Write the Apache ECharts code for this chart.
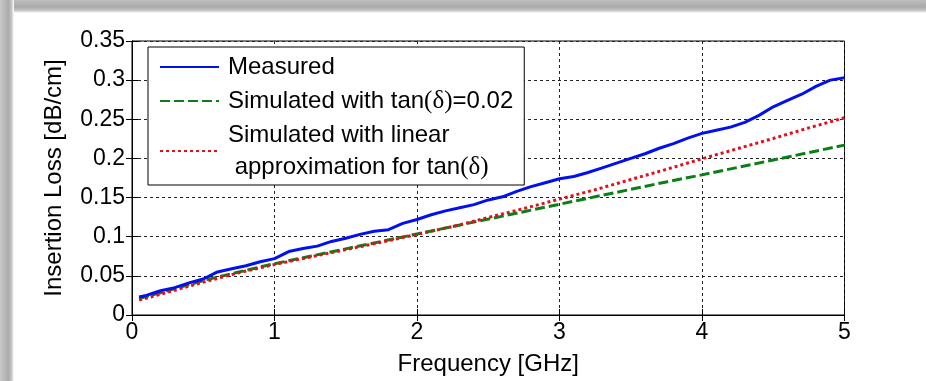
<!DOCTYPE html>
<html>
<head>
<meta charset="utf-8">
<title>Insertion Loss</title>
<script src="https://cdn.jsdelivr.net/npm/echarts@6/dist/echarts.min.js"></script>
<style>
  html, body { margin: 0; padding: 0; background: #fff; overflow: hidden; }
  #chart { width: 926px; height: 381px; }
</style>
</head>
<body>
<div id="chart"></div>
<script>
// measured curve (GHz, dB/cm)
var freqMeasured = [0.05, 0.1, 0.2, 0.3, 0.4, 0.5, 0.6, 0.7, 0.8, 0.9, 1.0,
    1.1, 1.2, 1.3, 1.4, 1.5, 1.6, 1.7, 1.8, 1.9, 2.0,
    2.1, 2.2, 2.3, 2.4, 2.5, 2.6, 2.7, 2.8, 2.9, 3.0,
    3.1, 3.2, 3.3, 3.4, 3.5, 3.6, 3.7, 3.8, 3.9, 4.0,
    4.1, 4.2, 4.3, 4.4, 4.5, 4.6, 4.7, 4.8, 4.9, 5.0];
var lossMeasured = [0.023, 0.025, 0.031, 0.035, 0.041, 0.046, 0.055, 0.059, 0.063, 0.068, 0.072,
    0.081, 0.085, 0.088, 0.094, 0.098, 0.103, 0.107, 0.109, 0.117, 0.122,
    0.128, 0.133, 0.137, 0.141, 0.147, 0.151, 0.158, 0.164, 0.169, 0.174,
    0.177, 0.182, 0.188, 0.194, 0.200, 0.206, 0.213, 0.219, 0.226, 0.232,
    0.236, 0.240, 0.246, 0.255, 0.266, 0.274, 0.282, 0.292, 0.300, 0.303];

// simulated curves
var freqSim = [0.05, 0.25, 0.5, 0.75, 1.0, 1.25, 1.5, 1.75, 2.0, 2.25, 2.5,
    2.75, 3.0, 3.25, 3.5, 3.75, 4.0, 4.25, 4.5, 4.75, 5.0];
var lossSimConst = [0.021, 0.031, 0.044, 0.055, 0.0655, 0.075, 0.0845, 0.094, 0.1035, 0.113, 0.1225,
    0.132, 0.1415, 0.151, 0.1605, 0.170, 0.179, 0.1885, 0.198, 0.2075, 0.217];
var lossSimLinear = [0.019, 0.029, 0.042, 0.054, 0.0645, 0.074, 0.0835, 0.093, 0.103, 0.113, 0.1245,
    0.136, 0.148, 0.160, 0.173, 0.186, 0.1995, 0.2125, 0.2255, 0.239, 0.252];

var xTickLabels = ['0', '1', '2', '3', '4', '5'];
var yTickLabels = ['0', '0.05', '0.1', '0.15', '0.2', '0.25', '0.3', '0.35'];
var seriesNames = ['Measured', 'Simulated with tan(δ)=0.02', 'Simulated with linear\n approximation for tan(δ)'];

function zip(xs, ys) {
    var out = [];
    for (var i = 0; i < xs.length; i++) out.push([xs[i], ys[i]]);
    return out;
}

var FONT = 'Liberation Sans, Arial, sans-serif';
var chart = echarts.init(document.getElementById('chart'));

var gridLine = { show: true, lineStyle: { color: '#222', width: 1, type: [3, 3] } };

var option = {
    backgroundColor: '#fff',
    animation: false,
    graphic: [
        // grey frame strips (top and left)
        {
            type: 'rect', shape: { x: 0, y: 0, width: 926, height: 13 }, silent: true,
            style: { fill: new echarts.graphic.LinearGradient(0, 0, 0, 1, [
                { offset: 0, color: '#bdbdbd' }, { offset: 0.55, color: '#aaaaaa' },
                { offset: 0.8, color: '#c6c6c6' }, { offset: 1, color: '#ffffff' }]) }
        },
        {
            type: 'rect', shape: { x: 0, y: 0, width: 14, height: 381 }, silent: true,
            style: { fill: new echarts.graphic.LinearGradient(0, 0, 1, 0, [
                { offset: 0, color: '#c8c8c8' }, { offset: 0.6, color: '#acacac' },
                { offset: 0.8, color: '#c0c0c0' }, { offset: 1, color: '#ffffff' }]) }
        }
    ],
    grid: {
        left: 132, right: 81.5, top: 41, bottom: 63.3,
        show: true, borderColor: '#000', borderWidth: 1, backgroundColor: 'transparent'
    },
    legend: {
        orient: 'vertical',
        left: 148, top: 47,
        padding: [4, 11, 2, 11],
        itemGap: 2,
        itemWidth: 59,
        itemHeight: 14,
        backgroundColor: '#fff',
        borderColor: '#000',
        borderWidth: 1,
        borderRadius: 0,
        itemStyle: { opacity: 0 },
        data: seriesNames,
        formatter: function (name) {
            return name.split('(δ)').join('{s|(δ)}');
        },
        textStyle: {
            fontFamily: FONT, fontSize: 24, color: '#000', lineHeight: 32, padding: [0, 0, 0, 4],
            rich: { s: { fontFamily: 'Liberation Serif, serif', fontSize: 25, lineHeight: 32, color: '#000' } }
        }
    },
    xAxis: [{
        type: 'value', min: 0, max: 5, interval: 1,
        name: 'Frequency [GHz]', nameLocation: 'middle', nameGap: 37,
        nameTextStyle: { fontFamily: FONT, fontSize: 24, color: '#000' },
        axisLine: { show: true, lineStyle: { color: '#000', width: 1 } },
        axisTick: { show: true, inside: true, length: 6, lineStyle: { color: '#000' } },
        axisLabel: {
            fontFamily: FONT, fontSize: 23, color: '#000', margin: 6,
            formatter: function (v) { return xTickLabels[Math.round(v)]; }
        },
        splitLine: gridLine
    }, {
        type: 'value', min: 0, max: 5, interval: 1, position: 'top',
        axisLine: { show: true, lineStyle: { color: '#000' } },
        axisTick: { show: true, inside: true, length: 6, lineStyle: { color: '#000' } },
        axisLabel: { show: false }, splitLine: { show: false }
    }],
    yAxis: [{
        type: 'value', min: 0, max: 0.35, interval: 0.05,
        name: 'Insertion Loss [dB/cm]', nameLocation: 'middle', nameGap: 66,
        nameTextStyle: { fontFamily: FONT, fontSize: 24, color: '#000' },
        axisLine: { show: true, lineStyle: { color: '#000', width: 1 } },
        axisTick: { show: true, inside: true, length: 6, lineStyle: { color: '#000' } },
        axisLabel: {
            fontFamily: FONT, fontSize: 23, color: '#000', margin: 7,
            formatter: function (v) { return yTickLabels[Math.round(v / 0.05)]; }
        },
        splitLine: gridLine
    }, {
        type: 'value', min: 0, max: 0.35, interval: 0.05, position: 'right',
        axisLine: { show: true, lineStyle: { color: '#000' } },
        axisTick: { show: true, inside: true, length: 6, lineStyle: { color: '#000' } },
        axisLabel: { show: false }, splitLine: { show: false }
    }],
    series: [
        {
            name: seriesNames[0], type: 'line', symbol: 'none', z: 5,
            data: zip(freqMeasured, lossMeasured),
            lineStyle: { color: '#0010ee', width: 3, type: 'solid' },
            itemStyle: { color: '#0010ee' }
        },
        {
            name: seriesNames[1], type: 'line', symbol: 'none', z: 4,
            data: zip(freqSim, lossSimConst),
            lineStyle: { color: '#0a8014', width: 3, type: [10, 4] },
            itemStyle: { color: '#0a8014' }
        },
        {
            name: seriesNames[2], type: 'line', symbol: 'none', z: 4,
            data: zip(freqSim, lossSimLinear),
            lineStyle: { color: '#e0101c', width: 3, type: [3, 3] },
            itemStyle: { color: '#e0101c' }
        }
    ]
};

chart.setOption(option);
</script>
</body>
</html>
